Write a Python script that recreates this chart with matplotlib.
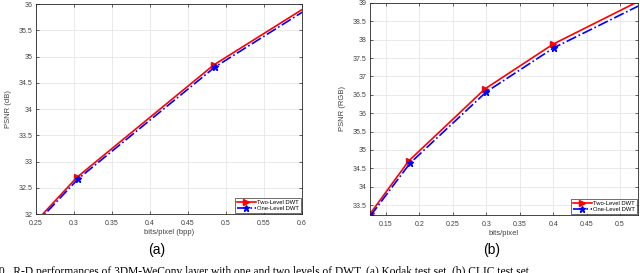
import numpy as np
import matplotlib
matplotlib.use('Agg')
import matplotlib.pyplot as plt
from matplotlib.ticker import FormatStrFormatter

plt.rcParams['font.family'] = ['Liberation Sans', 'DejaVu Sans']

# --- DATA ---
# (a) Kodak
kodak_bpp_two = [0.20, 0.304, 0.484, 0.70]
kodak_psnr_two = [31.08, 32.70, 34.84, 36.80]
kodak_bpp_one = [0.20, 0.3055, 0.4855, 0.70]
kodak_psnr_one = [31.05, 32.67, 34.80, 36.75]

# (b) CLIC
clic_bpp_two = [0.127, 0.184, 0.298, 0.400, 0.56]
clic_psnr_two = [33.28, 34.70, 36.66, 37.88, 39.34]
clic_bpp_one = [0.127, 0.186, 0.300, 0.401, 0.56]
clic_psnr_one = [33.21, 34.64, 36.58, 37.78, 39.21]

labels = ['Two-Level DWT', 'One-Level DWT']

fig = plt.figure(figsize=(6.4, 2.73), dpi=100)
ax1 = fig.add_axes([0.05625, 0.2161, 0.4156, 0.7692])
ax2 = fig.add_axes([0.578, 0.2125, 0.419, 0.7766])

TICK_FS = 5
GRAY = '#404040'


def style(ax):
    ax.grid(True, color='#e6e6e6', linewidth=0.6)
    ax.set_axisbelow(True)
    for s in ax.spines.values():
        s.set_color('#262626')
        s.set_linewidth(0.6)
    ax.tick_params(direction='in', top=True, right=True, length=2.5, width=0.5,
                   labelsize=TICK_FS, labelcolor=GRAY, colors='#262626', pad=2.5)
    ax.tick_params(axis='x', pad=4)
    for lab in ax.get_xticklabels() + ax.get_yticklabels():
        lab.set_color(GRAY)
    ax.xaxis.set_major_formatter(FormatStrFormatter('%g'))
    ax.yaxis.set_major_formatter(FormatStrFormatter('%g'))


def draw(ax, x2, y2, x1, y1):
    ax.plot(x2, y2, '-', color='red', linewidth=1.2, marker='>', markersize=4.5,
            label=labels[0])
    ax.plot(x1, y1, '-.', color='blue', linewidth=1.2, marker='*', markersize=4.5,
            label=labels[1])
    leg = ax.legend(loc='lower right', fontsize=4.2, frameon=True, fancybox=False,
                    borderpad=0.3, labelspacing=0.2, handlelength=3.2,
                    handletextpad=0.3, borderaxespad=0.15)
    leg.get_frame().set_edgecolor('black')
    leg.get_frame().set_linewidth(0.5)


# (a)
draw(ax1, kodak_bpp_two, kodak_psnr_two, kodak_bpp_one, kodak_psnr_one)
ax1.set_xlim(0.25, 0.6)
ax1.set_ylim(32, 36)
ax1.set_xticks(np.arange(0.25, 0.601, 0.05))
ax1.set_yticks(np.arange(32, 36.01, 0.5))
style(ax1)
ax1.set_xlabel('bits/pixel (bpp)', fontsize=5.5, color=GRAY, labelpad=2)
ax1.set_ylabel('PSNR (dB)', fontsize=5.5, color=GRAY, labelpad=5)

# (b)
draw(ax2, clic_bpp_two, clic_psnr_two, clic_bpp_one, clic_psnr_one)
ax2.set_xlim(0.126, 0.527)
ax2.set_ylim(33.23, 39)
ax2.set_xticks(np.arange(0.15, 0.501, 0.05))
ax2.set_yticks(np.arange(33.5, 39.01, 0.5))
style(ax2)
ax2.set_xlabel('bits/pixel', fontsize=5.5, color=GRAY, labelpad=2)
ax2.set_ylabel('PSNR (RGB)', fontsize=5.5, color=GRAY, labelpad=5)

fig.text(157 / 640, 1 - 250 / 273, '(a)', fontsize=10, ha='center', va='center')
fig.text(492 / 640, 1 - 250 / 273, '(b)', fontsize=10, ha='center', va='center')

fig.text(-0.002, 1 - 266 / 273,
         '0.  R-D performances of 3DM-WeConv layer with one and two levels of DWT. '
         '(a) Kodak test set. (b) CLIC test set.',
         fontsize=8.3, family=['Liberation Serif', 'DejaVu Serif'],
         ha='left', va='top')

fig.savefig('out.png', dpi=100)
